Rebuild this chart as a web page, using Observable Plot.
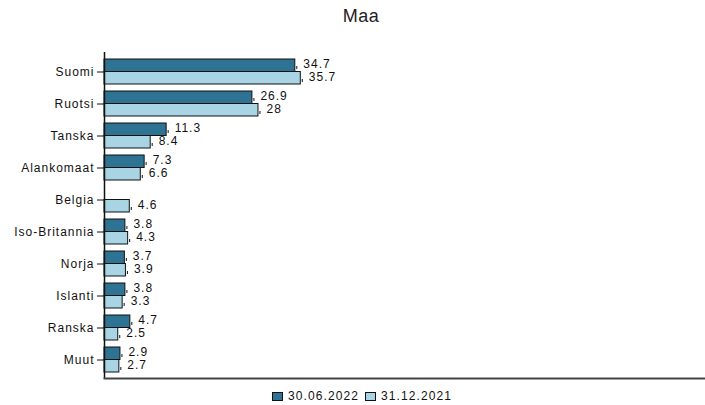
<!DOCTYPE html>
<html>
<head>
<meta charset="utf-8">
<script src="https://cdn.jsdelivr.net/npm/d3@7"></script>
<script src="https://cdn.jsdelivr.net/npm/@observablehq/plot@0.6"></script>
<style>
  body { margin: 0; background: #fff; font-family: "Liberation Sans", Arial, Helvetica, sans-serif; }
  #wrap { position: relative; width: 705px; height: 405px; }
  #title { position: absolute; top: 6px; left: 0; width: 722px; text-align: center; font-size: 18px; color: #222; letter-spacing: 0.5px; }
  #chart { position: absolute; top: 36px; left: 0; }
  #chart svg { display: block; }
  #legend { position: absolute; top: 389px; left: 272px; display: flex; align-items: center; font-size: 12px; letter-spacing: 1.1px; color: #111; }
  .sw { width: 9px; height: 7px; border: 1px solid #111; margin-right: 5px; }
  .item { display: flex; align-items: center; margin-right: 6px; }
</style>
</head>
<body>
<div id="wrap">
  <div id="title">Maa</div>
  <div id="chart"></div>
  <div id="legend"></div>
</div>
<script>
const categories = ["Suomi", "Ruotsi", "Tanska", "Alankomaat", "Belgia", "Iso-Britannia", "Norja", "Islanti", "Ranska", "Muut"];
const seriesNames = ["30.06.2022", "31.12.2021"];
const values2022 = [34.7, 26.9, 11.3, 7.3, null, 3.8, 3.7, 3.8, 4.7, 2.9];
const values2021 = [35.7, 28, 8.4, 6.6, 4.6, 4.3, 3.9, 3.3, 2.5, 2.7];
const colors = ["#2f7394", "#a8d4e3"];

const d22 = categories.map((c, i) => ({cat: c, v: values2022[i]})).filter(d => d.v != null);
const d21 = categories.map((c, i) => ({cat: c, v: values2021[i]})).filter(d => d.v != null);

const plot = Plot.plot({
  width: 705,
  height: 352,
  marginTop: 12.2,
  marginBottom: 6.2,
  marginLeft: 104,
  marginRight: 0,
  style: {fontFamily: '"Liberation Sans", Arial, Helvetica, sans-serif', fontSize: "12px", letterSpacing: "1px", color: "#111"},
  x: {domain: [0, 109.3], axis: null},
  y: {domain: categories, padding: 0.233, label: null, tickSize: 7, tickPadding: 3},
  marks: [
    Plot.barX(d22, {x: "v", y: "cat", fill: colors[0], stroke: "#111", strokeWidth: 1, insetBottom: 12.5}),
    Plot.barX(d21, {x: "v", y: "cat", fill: colors[1], stroke: "#111", strokeWidth: 1, insetTop: 12.5}),
    Plot.tickX(d22, {x: "v", y: "cat", stroke: "#111", insetTop: 7, insetBottom: 15, dx: 1.5}),
    Plot.tickX(d21, {x: "v", y: "cat", stroke: "#111", insetTop: 20, insetBottom: 2, dx: 1.5}),
    Plot.text(d22, {x: "v", y: "cat", text: d => String(d.v), dx: 8, dy: -7.5, textAnchor: "start", fill: "#111"}),
    Plot.text(d21, {x: "v", y: "cat", text: d => String(d.v), dx: 8, dy: 5, textAnchor: "start", fill: "#111"}),
    Plot.ruleX([0], {stroke: "#111", strokeWidth: 1.5, insetTop: 3.8, insetBottom: 3.8}),
    Plot.frame({anchor: "bottom", stroke: "#444", strokeWidth: 2, insetBottom: 3.8})
  ]
});
document.getElementById("chart").appendChild(plot);

const legend = document.getElementById("legend");
seriesNames.forEach((s, i) => {
  const it = document.createElement("div");
  it.className = "item";
  const sw = document.createElement("div");
  sw.className = "sw";
  sw.style.background = colors[i];
  const t = document.createElement("span");
  t.textContent = s;
  it.appendChild(sw);
  it.appendChild(t);
  legend.appendChild(it);
});
</script>
</body>
</html>
